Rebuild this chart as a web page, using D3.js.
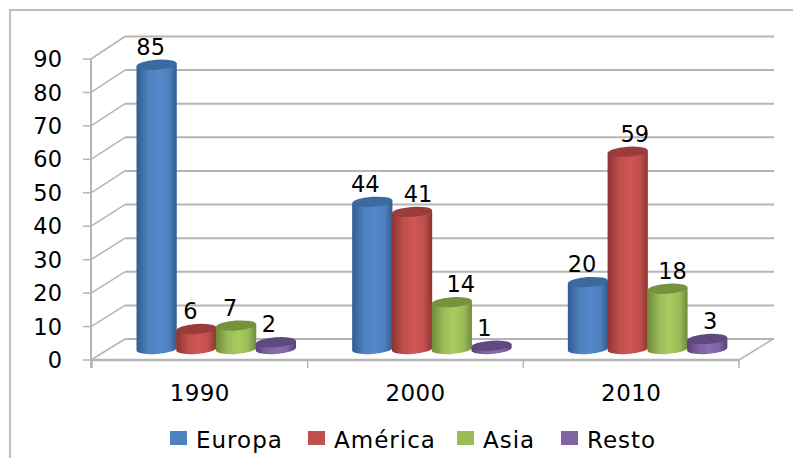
<!DOCTYPE html>
<html>
<head>
<meta charset="utf-8">
<script src="https://cdnjs.cloudflare.com/ajax/libs/d3/7.8.5/d3.min.js"></script>
<style>
  html, body { margin: 0; padding: 0; background: #fff; }
  text { font-family: "DejaVu Sans", sans-serif; fill: #000; }
</style>
</head>
<body>
<svg id="chart" width="793" height="458"></svg>
<script>
const years = ["1990", "2000", "2010"];
const seriesNames = ["Europa", "América", "Asia", "Resto"];
const europa = [85, 44, 20];
const america = [6, 41, 59];
const asia = [7, 14, 18];
const resto = [2, 1, 3];
const yTicks = [0, 10, 20, 30, 40, 50, 60, 70, 80, 90];

const seriesValues = [europa, america, asia, resto];
const mid = ["#4f81bd", "#c0504d", "#9bbb59", "#8064a2"];
const light = ["#5289cc", "#d05654", "#a6cc5e", "#8a6cb0"];
const dark = ["#2f5d92", "#8e3432", "#6f8a3a", "#573f78"];
const capFill = ["#3a6a9f", "#9a3d3a", "#76923f", "#5f4a80"];

// data labels sit off-centre in the original, per series then per year
const labelNudge = [[-6, -7, -6], [-6, 6, 7], [-6, 9, 5], [-7, -7, 3]];

const svg = d3.select("#chart");
const depthX = 34;
const grid = "#b5b5b5";

const x = d3.scaleBand().domain(years).range([92, 739]);
const y = d3.scaleLinear().domain([0, 90]).range([360, 59]);
const yBack = d3.scaleLinear().domain([0, 90]).range([339, 36.5]);
const inner = d3.scaleBand().domain(seriesNames).range([0, 159]);

// frame
svg.append("path")
    .attr("d", "M793,10H10V458")
    .attr("fill", "none")
    .attr("stroke", "#bdbdbd")
    .attr("stroke-width", 2);

// walls
svg.selectAll("line.back")
    .data(yTicks)
  .enter().append("line")
    .attr("x1", x.range()[0] + depthX - 1)
    .attr("x2", x.range()[1] + depthX + 1)
    .attr("y1", d => yBack(d))
    .attr("y2", d => yBack(d))
    .attr("stroke", grid)
    .attr("stroke-width", 2);

svg.selectAll("line.side")
    .data(yTicks)
  .enter().append("line")
    .attr("x1", 83)
    .attr("x2", 91)
    .attr("y1", d => y(d))
    .attr("y2", d => y(d))
    .attr("stroke", grid)
    .attr("stroke-width", 1.5);

svg.selectAll("line.diag")
    .data(yTicks)
  .enter().append("line")
    .attr("x1", 91)
    .attr("x2", 91 + depthX)
    .attr("y1", d => y(d))
    .attr("y2", d => yBack(d))
    .attr("stroke", grid)
    .attr("stroke-width", 1.5);

svg.append("line")
    .attr("x1", 91).attr("x2", 91)
    .attr("y1", y(90)).attr("y2", y(0) + 8)
    .attr("stroke", grid).attr("stroke-width", 2);

// floor
svg.append("line")
    .attr("x1", 91).attr("x2", x.range()[1])
    .attr("y1", y(0)).attr("y2", y(0))
    .attr("stroke", grid).attr("stroke-width", 2.5);
svg.append("line")
    .attr("x1", x.range()[1]).attr("x2", x.range()[1] + depthX)
    .attr("y1", y(0)).attr("y2", yBack(0))
    .attr("stroke", grid).attr("stroke-width", 1.5);
svg.selectAll("line.xtick")
    .data(d3.range(4))
  .enter().append("line")
    .attr("x1", i => 92 + i * x.step())
    .attr("x2", i => 92 + i * x.step())
    .attr("y1", y(0))
    .attr("y2", y(0) + 8)
    .attr("stroke", grid)
    .attr("stroke-width", 1.5);

// y tick labels
svg.selectAll("text.ylab")
    .data(yTicks)
  .enter().append("text")
    .attr("x", 62)
    .attr("y", d => y(d))
    .attr("dy", "0.36em")
    .attr("text-anchor", "end")
    .attr("font-size", 22.5)
    .text(d => d);

// x labels
svg.selectAll("text.xlab")
    .data(years)
  .enter().append("text")
    .attr("x", d => x(d) + x.bandwidth() / 2)
    .attr("y", 401)
    .attr("text-anchor", "middle")
    .attr("font-size", 23)
    .attr("letter-spacing", 0.4)
    .text(d => d);

// gradients for the cylinders
const defs = svg.append("defs");
seriesNames.forEach((s, i) => {
  const g = defs.append("linearGradient").attr("id", "cyl" + i);
  g.append("stop").attr("offset", "0%").attr("stop-color", dark[i]);
  g.append("stop").attr("offset", "30%").attr("stop-color", mid[i]);
  g.append("stop").attr("offset", "55%").attr("stop-color", light[i]);
  g.append("stop").attr("offset", "80%").attr("stop-color", mid[i]);
  g.append("stop").attr("offset", "100%").attr("stop-color", dark[i]);
});

// cylinders
const baseY = y(0) - 11;
const unit = y(0) - y(1);
const ry = 5;
const tilt = -4;
const bars = [];
years.forEach((yr, j) => {
  seriesNames.forEach((s, i) => {
    bars.push({ yr, s, i, j, v: seriesValues[i][j] });
  });
});

const bar = svg.selectAll("g.bar")
    .data(bars)
  .enter().append("g")
    .attr("transform", d => `translate(${x(d.yr) + 44.5 + inner(d.s)},0)`);

const w = inner.bandwidth() + 0.5;
const lean = w / 2 * Math.sin(-tilt * Math.PI / 180);

bar.append("path")
    .attr("fill", d => `url(#cyl${d.i})`)
    .attr("d", d => {
      const top = baseY - d.v * unit;
      return `M0,${top + lean}V${baseY + lean}A${w / 2},${ry} ${tilt} 0 0 ${w},${baseY - lean}V${top - lean}Z`;
    });

bar.append("ellipse")
    .attr("cx", w / 2)
    .attr("cy", d => baseY - d.v * unit)
    .attr("rx", w / 2)
    .attr("ry", ry)
    .attr("transform", d => `rotate(${tilt} ${w / 2} ${baseY - d.v * unit})`)
    .attr("fill", d => capFill[d.i]);

bar.append("text")
    .attr("x", d => w / 2 + labelNudge[d.i][d.j])
    .attr("y", d => baseY - d.v * unit - 10)
    .attr("text-anchor", "middle")
    .attr("font-size", 22.5)
    .text(d => d.v);

// legend
const legendX = [170, 308, 457, 561];
const legend = svg.selectAll("g.legend")
    .data(seriesNames)
  .enter().append("g")
    .attr("transform", (d, i) => `translate(${legendX[i]},431)`);

legend.append("rect")
    .attr("width", 17)
    .attr("height", 14)
    .attr("fill", (d, i) => mid[i]);

legend.append("text")
    .attr("x", 26)
    .attr("y", 17)
    .attr("font-size", 23)
    .attr("letter-spacing", 1)
    .text(d => d);
</script>
</body>
</html>
